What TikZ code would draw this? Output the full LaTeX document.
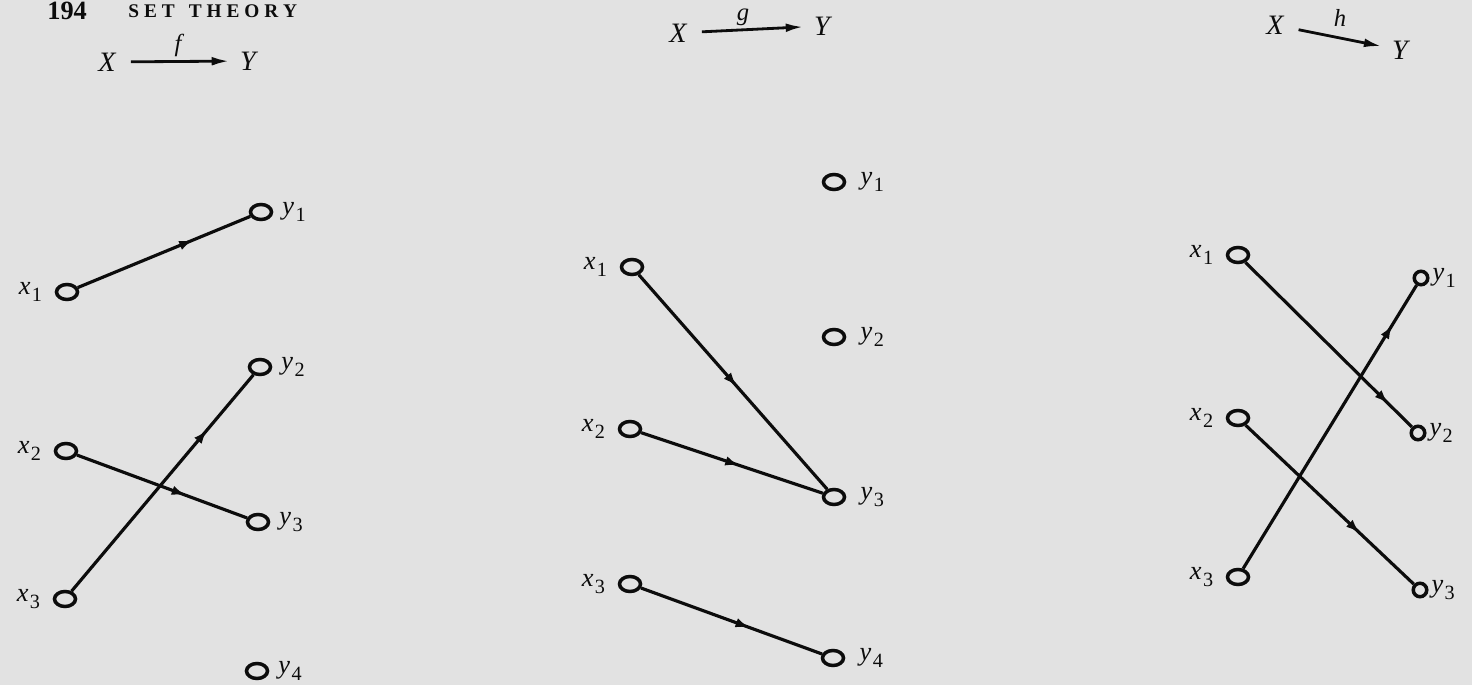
\documentclass[tikz,border=0pt]{standalone}
\usepackage{fontspec}
\setmainfont{Liberation Serif}
\usetikzlibrary{arrows.meta,decorations.markings,shapes.geometric}
\definecolor{paper}{RGB}{226,226,226}
\definecolor{ink}{RGB}{12,12,12}
\newcommand\sub[2]{\textit{#1}\kern0.8pt\raisebox{-4pt}{\fontsize{11.5}{11.5}\selectfont #2}}
\begin{document}
\begin{tikzpicture}[x=0.02cm,y=-0.02cm,
  every node/.style={text=ink},
  pt/.style={ellipse,draw=ink,line width=2pt,minimum width=0.42cm,minimum height=0.30cm,inner sep=0pt},
  spt/.style={pt,minimum width=0.27cm,minimum height=0.27cm},
  lab/.style={inner sep=0pt,font=\fontsize{15}{17}\selectfont},
  conn/.style={draw=ink,line width=1.8pt,postaction={decorate},
    decoration={markings,mark=at position #1 with {\arrow{Latex[length=8pt,width=5.5pt]}}}},
  hd/.style={inner sep=0pt,font=\fontsize{16}{18}\selectfont\itshape},
  fn/.style={inner sep=0pt,font=\fontsize{14}{16}\selectfont\itshape},
  harrow/.style={draw=ink,line width=1.6pt,-{Latex[length=10pt,width=5pt]},shorten <=8.5pt,shorten >=6pt}
]
\fill[paper] (0,0) rectangle (1472,685);
\useasboundingbox (0,0) rectangle (1472,685);

% running head
\node[anchor=base west,inner sep=0pt,font=\fontsize{15}{15}\selectfont\bfseries] (page) at (47,20) {194};
\node[anchor=base west,inner sep=0pt,font=\fontsize{11}{11}\selectfont\bfseries] (title) at (128,18)
  {S\kern2.8pt E\kern2.8pt T\kern8pt T\kern2.8pt H\kern2.8pt E\kern2.8pt O\kern2.8pt R\kern2.8pt Y};

% ---------- f ----------
\node[hd] (fX) at (107,62) {X};
\node[hd] (fY) at (248,61) {Y};
\node[fn] (fl) at (178,45) {f};
\draw[harrow] (fX) -- (fY);

\node[pt,label={[lab,label distance=7pt]left:\sub{x}{1}}] (fx1) at (67,292) {};
\node[pt,label={[lab,label distance=7pt]left:\sub{x}{2}}] (fx2) at (66,451) {};
\node[pt,label={[lab,label distance=7pt]left:\sub{x}{3}}] (fx3) at (65,599) {};
\node[pt,label={[lab,label distance=5pt]right:\sub{y}{1}}] (fy1) at (261,212) {};
\node[pt,label={[lab,label distance=5pt]right:\sub{y}{2}}] (fy2) at (260,367) {};
\node[pt,label={[lab,label distance=5pt]right:\sub{y}{3}}] (fy3) at (258,522) {};
\node[pt,label={[lab,label distance=5pt]right:\sub{y}{4}}] (fy4) at (257,671) {};
\draw[conn=0.67] (fx1) -- (fy1);
\draw[conn=0.745] (fx3) -- (fy2);
\draw[conn=0.64] (fx2) -- (fy3);

% ---------- g ----------
\node[hd] (gX) at (678,33) {X};
\node[hd] (gY) at (822,26) {Y};
\node[fn] (gl) at (743,17) {g};
\draw[harrow] (gX) -- (gY);

\node[pt,label={[lab,label distance=7pt]left:\sub{x}{1}}] (gx1) at (632,267) {};
\node[pt,label={[lab,label distance=7pt]left:\sub{x}{2}}] (gx2) at (630,429) {};
\node[pt,label={[lab,label distance=7pt]left:\sub{x}{3}}] (gx3) at (630,584) {};
\node[pt,label={[lab,label distance=8pt]right:\sub{y}{1}}] (gy1) at (834,182) {};
\node[pt,label={[lab,label distance=8pt]right:\sub{y}{2}}] (gy2) at (834,337) {};
\node[pt,label={[lab,label distance=8pt]right:\sub{y}{3}}] (gy3) at (834,497) {};
\node[pt,label={[lab,label distance=8pt]right:\sub{y}{4}}] (gy4) at (833,658) {};
\draw[conn=0.52] (gx1) -- (gy3);
\draw[conn=0.54] (gx2) -- (gy3);
\draw[conn=0.6] (gx3) -- (gy4);

% ---------- h ----------
\node[hd] (hX) at (1275,25) {X};
\node[hd] (hY) at (1400,50) {Y};
\node[fn] (hl) at (1340,18) {h};
\draw[harrow] (hX) -- (hY);

\node[pt,label={[lab,label distance=7pt]left:\sub{x}{1}}] (hx1) at (1238,255) {};
\node[pt,label={[lab,label distance=7pt]left:\sub{x}{2}}] (hx2) at (1238,418) {};
\node[pt,label={[lab,label distance=7pt]left:\sub{x}{3}}] (hx3) at (1238,577) {};
\node[spt,label={[lab,label distance=1.5pt]right:\sub{y}{1}}] (hy1) at (1421,278) {};
\node[spt,label={[lab,label distance=1.5pt]right:\sub{y}{2}}] (hy2) at (1418,433) {};
\node[spt,label={[lab,label distance=1.5pt]right:\sub{y}{3}}] (hy3) at (1420,590) {};
\draw[conn=0.86] (hx1) -- (hy2);
\draw[conn=0.68] (hx2) -- (hy3);
\draw[conn=0.86] (hx3) -- (hy1);
\end{tikzpicture}
\end{document}
